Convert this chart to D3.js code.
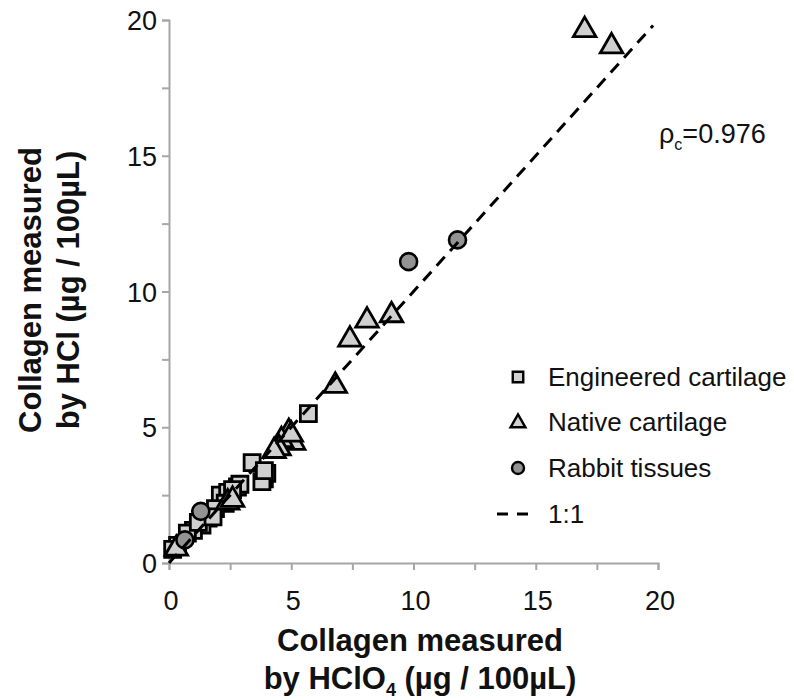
<!DOCTYPE html>
<html><head><meta charset="utf-8">
<script src="https://cdn.jsdelivr.net/npm/d3@7"></script>
<style>body{margin:0;background:#fff}svg{display:block}text{font-family:"Liberation Sans",Arial,sans-serif}</style>
</head><body><svg id="c" width="794" height="700"></svg>
<script>
const engineeredX = [5.7, 3.4, 3.9, 4.0, 3.8, 3.9, 2.8, 2.9, 2.1, 2.4, 2.3, 1.9, 1.6, 1.35, 1.0, 0.75, 1.2, 0.35, 0.15, 2.6, 1.8];
const engineeredY = [5.5, 3.7, 3.1, 3.3, 3.0, 3.4, 2.8, 2.9, 2.5, 2.6, 2.2, 2.0, 1.65, 1.4, 1.2, 1.1, 1.5, 0.65, 0.5, 2.7, 1.7];
const nativeX = [17.0, 18.1, 9.1, 8.1, 7.4, 6.8, 4.9, 5.1, 4.6, 4.5, 4.3, 5.0, 2.4, 2.6, 0.3];
const nativeY = [19.7, 19.1, 9.2, 9.0, 8.3, 6.6, 4.9, 4.5, 4.6, 4.3, 4.2, 4.8, 2.3, 2.4, 0.6];
const rabbitX = [11.8, 9.8, 1.3, 0.65];
const rabbitY = [11.9, 11.1, 1.9, 0.85];
const lineX = [0, 19.8];
const ticks = [0, 5, 10, 15, 20];
const minorTicks = [0, 2.5, 5, 7.5, 10, 12.5, 15, 17.5, 20];
const legendLabels = ["Engineered cartilage", "Native cartilage", "Rabbit tissues", "1:1"];

const svg = d3.select("#c");
const x = d3.scaleLinear().domain([0, 20]).range([169, 658]);
const y = d3.scaleLinear().domain([0, 20]).range([563, 20]);
const axisColor = "#a6a6a6";

// axes
const xa = svg.append("g").attr("transform", "translate(0,563)")
  .call(d3.axisBottom(x).tickValues(minorTicks).tickSize(7).tickFormat(""));
const ya = svg.append("g").attr("transform", "translate(169,0)")
  .call(d3.axisLeft(y).tickValues(minorTicks).tickSize(7).tickFormat(""));
[xa, ya].forEach(g => {
  g.selectAll("path.domain").attr("stroke", axisColor).attr("stroke-width", 2);
  g.selectAll(".tick line").attr("stroke", axisColor).attr("stroke-width", 2);
});
svg.append("g").selectAll("text").data(ticks).join("text")
  .attr("x", d => x(d) + 2).attr("y", 610).attr("text-anchor", "middle")
  .attr("font-size", 27).attr("fill", "#111").text(d => d);
svg.append("g").selectAll("text").data(ticks).join("text")
  .attr("x", 157).attr("y", d => y(d) + 10).attr("text-anchor", "end")
  .attr("font-size", 27).attr("fill", "#111").text(d => d);

// axis titles
const tfs = 31;
svg.append("text").attr("x", 420).attr("y", 651).attr("text-anchor", "middle")
  .attr("font-size", tfs).attr("font-weight", "bold").attr("fill", "#111").text("Collagen measured");
const xt2 = svg.append("text").attr("x", 420).attr("y", 689).attr("text-anchor", "middle")
  .attr("font-size", tfs).attr("font-weight", "bold").attr("fill", "#111");
xt2.append("tspan").text("by HClO");
xt2.append("tspan").attr("font-size", 18).attr("dy", 7).text("4");
xt2.append("tspan").attr("dy", -7).text(" (µg / 100µL)");
const yt = svg.append("g").attr("transform", "translate(0,290) rotate(-90)");
yt.append("text").attr("x", 0).attr("y", 41).attr("text-anchor", "middle")
  .attr("font-size", tfs).attr("font-weight", "bold").attr("fill", "#111").text("Collagen measured");
yt.append("text").attr("x", 0).attr("y", 79).attr("text-anchor", "middle")
  .attr("font-size", tfs).attr("font-weight", "bold").attr("fill", "#111").text("by HCl (µg / 100µL)");

// markers
const sq = d3.symbol().type(d3.symbolSquare).size(256);
const tri = d3.symbol().type(d3.symbolTriangle).size(220);
svg.append("g").selectAll("path").data(engineeredX.map((v, i) => [v, engineeredY[i]])).join("path")
  .attr("d", sq).attr("transform", d => `translate(${x(d[0])},${y(d[1])})`)
  .attr("fill", "#d0d0d0").attr("stroke", "#000").attr("stroke-width", 2.8);
svg.append("g").selectAll("path").data(nativeX.map((v, i) => [v, nativeY[i]])).join("path")
  .attr("d", tri).attr("transform", d => `translate(${x(d[0])},${y(d[1]) + 2})`)
  .attr("fill", "#d0d0d0").attr("stroke", "#000").attr("stroke-width", 2.8).attr("stroke-linejoin", "miter");
svg.append("g").selectAll("circle").data(rabbitX.map((v, i) => [v, rabbitY[i]])).join("circle")
  .attr("cx", d => x(d[0])).attr("cy", d => y(d[1])).attr("r", 8.5)
  .attr("fill", "#939393").attr("stroke", "#000").attr("stroke-width", 2.6);

// 1:1 line
svg.append("line").attr("x1", x(lineX[0])).attr("y1", y(lineX[0])).attr("x2", x(lineX[1])).attr("y2", y(lineX[1]))
  .attr("stroke", "#000").attr("stroke-width", 3).attr("stroke-dasharray", "12,8");

// annotation
const ann = svg.append("text").attr("x", 659).attr("y", 143).attr("font-size", 27).attr("fill", "#111");
ann.append("tspan").text("ρ");
ann.append("tspan").attr("font-size", 16).attr("dy", 7).text("c");
ann.append("tspan").attr("dy", -7).text("=0.976");

// legend
const lg = svg.append("g");
const ly = [377, 422, 468, 514];
lg.append("path").attr("d", d3.symbol().type(d3.symbolSquare).size(110)).attr("transform", `translate(518,${ly[0]})`)
  .attr("fill", "#d0d0d0").attr("stroke", "#000").attr("stroke-width", 2.4);
lg.append("path").attr("d", d3.symbol().type(d3.symbolTriangle).size(95)).attr("transform", `translate(518,${ly[1] + 1})`)
  .attr("fill", "#d0d0d0").attr("stroke", "#000").attr("stroke-width", 2.4);
lg.append("circle").attr("cx", 518).attr("cy", ly[2]).attr("r", 6)
  .attr("fill", "#939393").attr("stroke", "#000").attr("stroke-width", 2.4);
lg.append("line").attr("x1", 497).attr("x2", 529).attr("y1", ly[3]).attr("y2", ly[3])
  .attr("stroke", "#000").attr("stroke-width", 3).attr("stroke-dasharray", "11,9");
lg.selectAll("text").data(legendLabels).join("text")
  .attr("x", 548).attr("y", (d, i) => ly[i] + 9).attr("font-size", 26).attr("fill", "#111").text(d => d);
</script></body></html>
